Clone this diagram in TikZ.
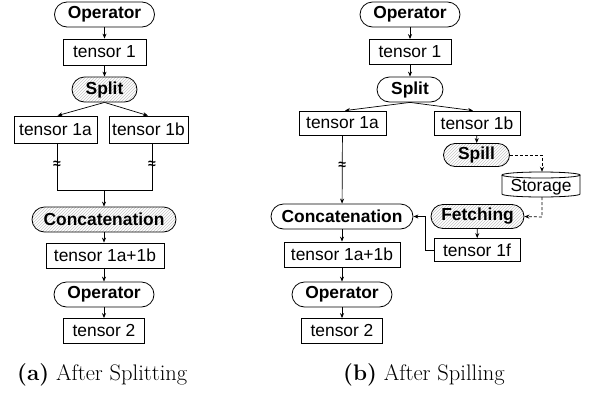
\documentclass[tikz,border=0pt]{standalone}
\usepackage{fontspec}
\newfontfamily\diagfont{Liberation Sans}
\usetikzlibrary{arrows.meta,patterns}
\begin{document}
\begin{tikzpicture}[x=1pt,y=-1pt,
  every node/.style={font=\diagfont\fontsize{17.4}{19}\selectfont, inner sep=0pt},
  tbox/.style={draw, line width=0.8pt, minimum height=26pt, fill=white},
  pill/.style={draw, line width=0.8pt, minimum height=25pt, rounded corners=12.5pt, font=\diagfont\bfseries\fontsize{17.4}{19}\selectfont, fill=white},
  hatch/.style={pill, preaction={fill=white}, pattern=north east lines, pattern color=gray!45},
  arr/.style={-{Stealth[length=5pt,width=4pt]}, line width=0.7pt},
  dasharr/.style={arr, dash pattern=on 3pt off 2pt},
  ln/.style={line width=0.7pt},
  apx/.style={font=\diagfont\bfseries\fontsize{14}{14}\selectfont}
]
\useasboundingbox (0,0) rectangle (589,394);
% ---------- (a) ----------
\node[pill, minimum width=100pt] (aop1) at (104.5,14.5) {Operator};
\node[tbox, minimum width=83pt] (at1) at (104.5,52) {tensor 1};
\node[hatch, minimum width=65pt] (asplit) at (104.5,89.5) {Split};
\node[tbox, minimum width=83pt, minimum height=27pt] (at1a) at (55.5,129.5) {tensor 1a};
\node[tbox, minimum width=79pt, minimum height=27pt] (at1b) at (148.5,129.5) {tensor 1b};
\coordinate (aj) at (104,190);
\node[hatch, minimum width=144pt] (aconc) at (104,219.5) {Concatenation};
\node[tbox, minimum width=118pt, minimum height=25pt] (at12) at (105,255.5) {tensor 1a+1b};
\node[pill, minimum width=100pt] (aop2) at (104,294.5) {Operator};
\node[tbox, minimum width=81pt, minimum height=25pt] (at2) at (104,331) {tensor 2};

\draw[arr] (aop1) -- (at1);
\draw[arr] (at1) -- (asplit);
\draw[arr] (asplit.south) -- ([xshift=2pt]at1a.north);
\draw[arr] (asplit.south) -- ([xshift=-0.5pt]at1b.north);
\draw[ln] ([xshift=1.5pt]at1a.south) -- node[apx, pos=0.45]{≈} ([xshift=1.5pt]at1a.south |- aj) -- ([xshift=3.5pt]at1b.south |- aj) -- node[apx, pos=0.55]{≈} ([xshift=3.5pt]at1b.south);
\draw[arr] (aj) -- (aconc.north -| aj);
\draw[arr] (aconc.south -| aj) -- (at12.north -| aj);
\draw[arr] (at12.south -| aj) -- (aop2.north -| aj);
\draw[arr] (aop2) -- (at2);

% ---------- (b) ----------
\node[pill, minimum width=100pt] (bop1) at (410,14.5) {Operator};
\node[tbox, minimum width=82pt, minimum height=25pt] (bt1) at (410,52) {tensor 1};
\node[pill, minimum width=66pt] (bsplit) at (410,89.5) {Split};
\node[tbox, minimum width=87pt, minimum height=24pt] (bt1a) at (342.5,123) {tensor 1a};
\node[tbox, minimum width=86pt, minimum height=24pt] (bt1b) at (477,123) {tensor 1b};
\node[hatch, minimum width=66pt, minimum height=23pt, rounded corners=11.5pt] (bspill) at (476.5,155) {Spill};
\node[minimum width=78pt, minimum height=25pt] (bstore) at (541,184.5) {};
\draw[line width=0.8pt, fill=white] (502,175) -- (502,194) arc[start angle=180, end angle=0, x radius=39, y radius=3] -- (580,175);
\draw[line width=0.8pt, fill=white] (541,175) ellipse[x radius=39, y radius=3];
\node at (541,187) {Storage};
\node[pill, minimum width=142pt] (bconc) at (342,216.5) {Concatenation};
\node[hatch, minimum width=93pt, minimum height=24pt, rounded corners=12pt] (bfetch) at (477.5,216.5) {Fetching};
\node[tbox, minimum width=86pt, minimum height=23pt] (bt1f) at (477,250) {tensor 1f};
\node[tbox, minimum width=116pt, minimum height=25pt] (bt12) at (342,254.5) {tensor 1a+1b};
\node[pill, minimum width=100pt] (bop2) at (342,294.5) {Operator};
\node[tbox, minimum width=81pt, minimum height=25pt] (bt2) at (342,331) {tensor 2};
\coordinate (bsc) at (542,155);
\coordinate (bfc) at (542,217);
\coordinate (bturn) at (425,250);

\draw[arr] (bop1) -- (bt1);
\draw[arr] (bt1) -- (bsplit);
\draw[arr] (bsplit.south) -- ([xshift=2.5pt]bt1a.north);
\draw[arr] (bsplit.south) -- ([xshift=-4pt]bt1b.north);
\draw[arr] (bt1b) -- (bspill);
\draw[dasharr] (bspill.east) -- (bsc) -- (bsc |- bstore.north);
\draw[arr] (bt1a) -- node[apx, pos=0.45]{≈} (bconc);
\draw[dasharr] (bsc |- bstore.south) -- (bfc) -- (bfetch.east);
\draw[arr] (bfetch) -- (bt1f);
\draw[arr] (bt1f.west) -- (bturn) -- (bturn |- bconc.east) -- (bconc.east);
\draw[arr] (bconc) -- (bt12);
\draw[arr] (bt12) -- (bop2);
\draw[arr] (bop2) -- (bt2);

% ---------- captions ----------
\node[font=\fontsize{22.5}{26}\selectfont, anchor=base west] (capa) at (17,380) {\textbf{(a)} After Splitting};
\node[font=\fontsize{22.5}{26}\selectfont, anchor=base west] (capb) at (343,380) {\textbf{(b)} After Spilling};
\end{tikzpicture}
\end{document}
